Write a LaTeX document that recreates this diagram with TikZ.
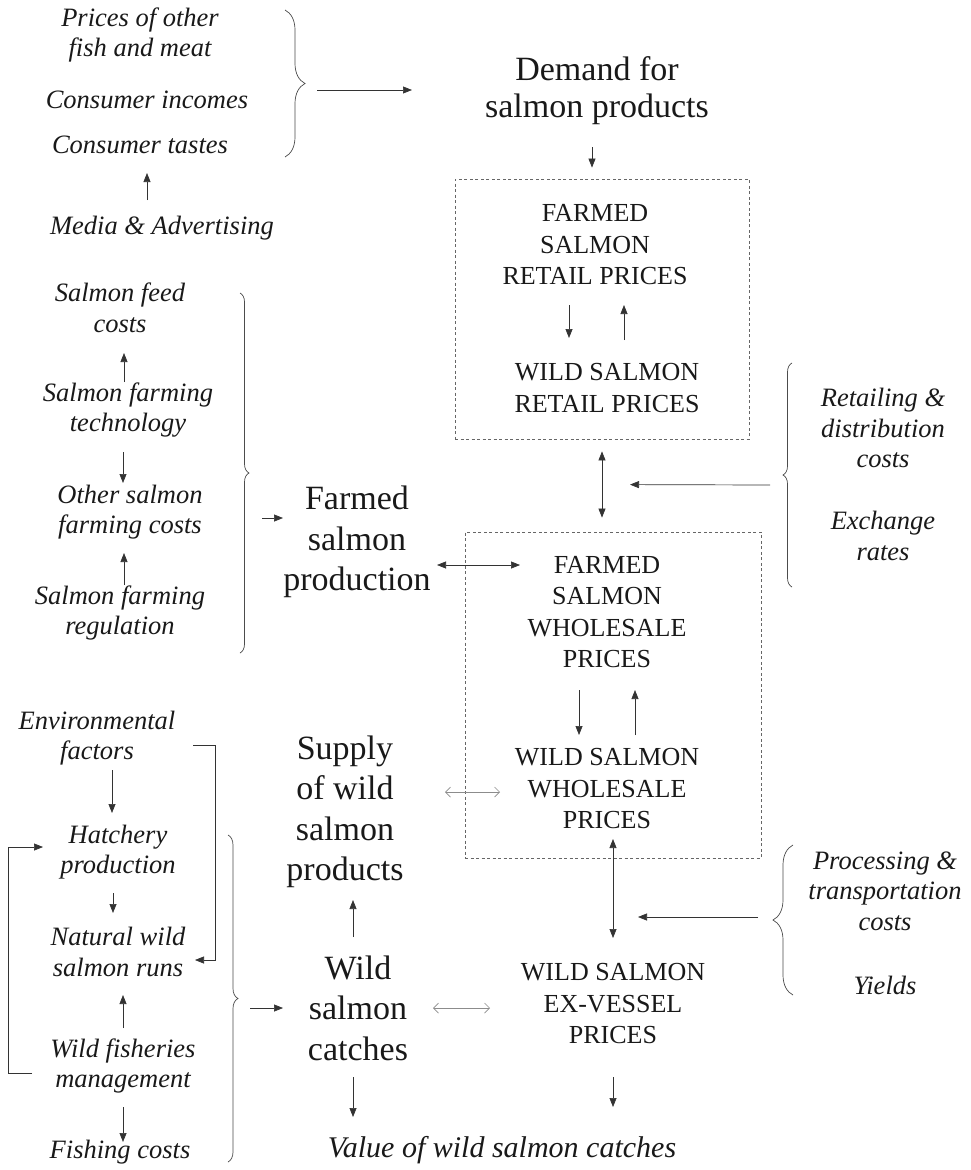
\documentclass[tikz,border=0pt]{standalone}
\usepackage{fontspec}
\setmainfont{Liberation Serif}
\usetikzlibrary{arrows.meta,decorations.pathreplacing,calc}
\begin{document}
\begin{tikzpicture}[x=1pt,y=-1pt,
 it/.style={font=\itshape\fontsize{26.5}{30.5}\selectfont,align=center,inner sep=0pt,text=black!90},
 big/.style={font=\fontsize{34}{40.5}\selectfont,align=center,inner sep=0pt,text=black!90},
 caps/.style={font=\fontsize{26}{31.5}\selectfont,align=center,inner sep=0pt,text=black!90},
 arr/.style={draw=black!80,line width=0.7pt,-{Triangle[length=9pt,width=7pt]}},
 darr/.style={draw=black!80,line width=0.7pt,{Triangle[length=9pt,width=7pt]}-{Triangle[length=9pt,width=7pt]}},
 garr/.style={draw=black!45,line width=0.7pt,{Straight Barb[length=5pt,width=10pt]}-{Straight Barb[length=5pt,width=10pt]}},
 dbox/.style={draw=black!60,dash pattern=on 3pt off 2.5pt,line width=0.8pt,inner sep=0pt},
 brc/.style={draw=black!70,line width=0.7pt,decorate,decoration={brace,amplitude=#1}}
]
\useasboundingbox[fill=white] (0,0) rectangle (971,1170);

% ---------- demand side ----------
\node[it] (prices) at (140,35) {Prices of other\\fish and meat};
\node[it] (incomes) at (147,100) {Consumer incomes};
\node[it] (tastes) at (140,145) {Consumer tastes};
\node[it] (media) at (162,228) {Media \& Advertising};
\node[big,font=\fontsize{34}{37}\selectfont] (demand) at (597,91) {Demand for\\salmon products};

% ---------- price boxes ----------
\node[dbox,minimum width=294pt,minimum height=260pt] (box1) at (602,309) {};
\node[caps] (fr) at (595,245) {FARMED\\SALMON\\RETAIL PRICES};
\node[caps] (wr) at (607,388) {WILD SALMON\\RETAIL PRICES};

\node[dbox,minimum width=296pt,minimum height=326pt] (box2) at (613,695) {};
\node[caps] (fw) at (607,612) {FARMED\\SALMON\\WHOLESALE\\PRICES};
\node[caps] (ww) at (607,789) {WILD SALMON\\WHOLESALE\\PRICES};
\node[caps] (ev) at (613,1004) {WILD SALMON\\EX-VESSEL\\PRICES};

% ---------- right factors ----------
\node[it] (retcost) at (883,428) {Retailing \&\\distribution\\costs};
\node[it] (exch) at (883,536) {Exchange\\rates};
\node[it] (proc) at (885,891) {Processing \&\\transportation\\costs};
\node[it] (yields) at (885,985) {Yields};

% ---------- farmed side ----------
\node[it] (feed) at (120,308) {Salmon feed\\costs};
\node[it] (tech) at (128,410) {Salmon farming\\technology};
\node[it] (other) at (130,512) {Other salmon\\farming costs};
\node[it] (reg) at (120,613) {Salmon farming\\regulation};
\node[big] (fp) at (357,542) {Farmed\\salmon\\production};

% ---------- wild side ----------
\node[it] (env) at (97,738) {Environmental\\factors};
\node[it] (hatch) at (118,852) {Hatchery\\production};
\node[it] (nat) at (118,952) {Natural wild\\salmon runs};
\node[it] (wfm) at (123,1066) {Wild fisheries\\management};
\node[it] (fish) at (120,1152) {Fishing costs};
\node[big] (supply) at (345,812) {Supply\\of wild\\salmon\\products};
\node[big] (catches) at (358,1008) {Wild\\salmon\\catches};
\node[it,font=\itshape\fontsize{30}{34}\selectfont] (value) at (502,1150) {Value of wild salmon catches};

% ---------- braces ----------
\draw[brc=20] (285,10) -- (285,157);
\coordinate (bt) at (317,90);
\draw[brc=9] (240,293) -- (240,653);
\coordinate (bm) at (262,518);
\draw[brc=10] (228,835) -- (228,1162);
\coordinate (bb) at (250,1008);
\draw[brc=9] (792,587) -- (792,363);
\coordinate (br1) at (770,485);
\draw[brc=20] (793,995) -- (793,845);
\coordinate (br2) at (758,917);

% ---------- connectors ----------
\draw[arr] ($(media.center)+(-15,-28)$) -- ($(tastes.center)+(7,28)$);
\draw[arr] (bt) -- ($(demand.center)+(-185,-1)$);
\draw[arr] ($(demand.center)+(-5,56)$) -- ($(box1.north)+(-10,-11)$);

\draw[arr] ($(fr.center)+(-26,60)$) -- ($(wr.center)+(-38,-50)$);
\draw[arr] ($(wr.center)+(17,-48)$) -- ($(fr.center)+(29,60)$);
\draw[darr] ($(box1.south)+(0,12)$) -- ($(box2.north)+(-11,-14)$);
\draw[arr] (br1) -- ($(box2.north)+(17,-47)$);

\draw[darr] ($(fp.center)+(80,23)$) -- ($(fw.center)+(-87,-47)$);
\draw[arr] ($(fw.center)+(-28,78)$) -- ($(ww.center)+(-28,-54)$);
\draw[arr] ($(ww.center)+(28,-54)$) -- ($(fw.center)+(28,78)$);
\draw[garr] ($(supply.center)+(100,-20)$) -- ($(ww.center)+(-107,3)$);
\draw[darr] ($(ww.center)+(6,50)$) -- ($(ev.center)+(0,-66)$);
\draw[arr] (br2) -- ($(ev.center)+(25,-87)$);
\draw[arr] ($(ev.center)+(0,73)$) -- ($(value.center)+(111,-43)$);
\draw[garr] ($(catches.center)+(75,0)$) -- ($(ev.center)+(-123,4)$);

\draw[arr] ($(tech.center)+(-4,-28)$) -- ($(feed.center)+(4,45)$);
\draw[arr] ($(tech.center)+(-5,42)$) -- ($(other.center)+(-7,-29)$);
\draw[arr] ($(reg.center)+(4,-28)$) -- ($(other.center)+(-6,41)$);
\draw[arr] (bm) -- ($(fp.center)+(-74,-24)$);

\draw[arr] ($(env.center)+(15,32)$) -- ($(hatch.center)+(-6,-39)$);
\draw[arr] ($(hatch.center)+(-5,41)$) -- ($(nat.center)+(-5,-39)$);
\draw[arr] ($(wfm.center)+(0,-38)$) -- ($(nat.center)+(5,43)$);
\draw[arr] ($(wfm.center)+(0,41)$) -- ($(fish.center)+(3,-10)$);
\draw[arr] ($(wfm.center)+(-91,7)$) -- ++(-24,0) |- ($(hatch.center)+(-75,-5)$);
\draw[arr] ($(env.center)+(96,7)$) -- ++(22,0) |- ($(nat.center)+(77,8)$);
\draw[arr] (bb) -- ($(catches.center)+(-75,0)$);
\draw[arr] ($(catches.center)+(-5,-71)$) -- ($(supply.center)+(8,88)$);
\draw[arr] ($(catches.center)+(-5,69)$) -- ($(value.center)+(-149,-33)$);
\end{tikzpicture}
\end{document}
